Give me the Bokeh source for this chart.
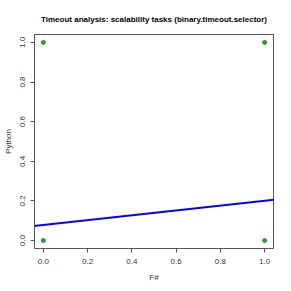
from bokeh.plotting import figure
from bokeh.models import Slope, FixedTicker, NumeralTickFormatter, Range1d
from bokeh.embed import file_html
from bokeh.resources import INLINE

# data
fsharp = [0, 0, 1, 1]
python = [0, 1, 0, 1]
fit_intercept = 0.079
fit_slope = 0.122
ticks = [0.0, 0.2, 0.4, 0.6, 0.8, 1.0]

FONT = "Liberation Sans"

p = figure(frame_width=239, frame_height=214, output_backend="svg", toolbar_location=None,
           x_range=Range1d(-0.04, 1.04), y_range=Range1d(-0.04, 1.04),
           title="Timeout analysis: scalability tasks (binary.timeout.selector)",
           min_border_left=34, min_border_right=10, min_border_top=34, min_border_bottom=35)

p.title.align = "center"
p.title.text_font = FONT
p.title.text_font_size = "8px"
p.title.text_font_style = "bold"
p.title.text_color = "#000000"
p.title.offset = 0
p.title.standoff = 21

p.grid.visible = False
p.outline_line_color = "#555555"
p.outline_line_width = 1
p.background_fill_color = "white"
p.border_fill_color = "white"

for ax in (p.xaxis[0], p.yaxis[0]):
    ax.ticker = FixedTicker(ticks=ticks)
    ax.formatter = NumeralTickFormatter(format="0.0")
    ax.axis_line_color = None
    ax.major_tick_line_color = "#555555"
    ax.major_tick_in = 0
    ax.major_tick_out = 4
    ax.minor_tick_line_color = None
    ax.major_label_text_font = FONT
    ax.major_label_text_font_size = "8px"
    ax.major_label_text_color = "#333333"
    ax.axis_label_text_font = FONT
    ax.axis_label_text_font_size = "8px"
    ax.axis_label_text_font_style = "normal"
    ax.axis_label_text_color = "#333333"

p.xaxis.axis_label = "F#"
p.yaxis.axis_label = "Python"
p.xaxis.major_label_standoff = 6
p.yaxis.major_label_standoff = 5
p.xaxis.axis_label_standoff = 6
p.yaxis.axis_label_standoff = 5
p.yaxis.major_label_orientation = "vertical"

p.scatter(fsharp, python, size=4, color="#22a022", line_color="#22a022")
p.add_layout(Slope(gradient=fit_slope, y_intercept=fit_intercept,
                   line_color="#0000ff", line_width=2))

open("out.html", "w").write(file_html(p, INLINE))
